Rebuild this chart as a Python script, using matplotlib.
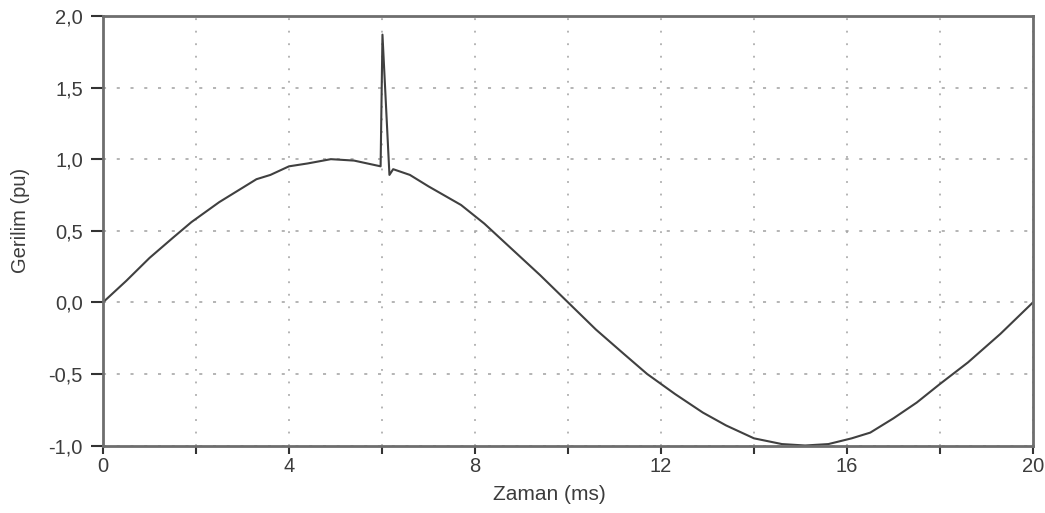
import numpy as np
import matplotlib
matplotlib.use('Agg')
import matplotlib.pyplot as plt
from matplotlib.ticker import FuncFormatter, MultipleLocator

# Voltage waveform (time in ms, voltage in pu)
zaman = [0, 0.5, 1.0, 1.5, 1.9, 2.5, 3.0, 3.3, 3.6, 4.0, 4.4, 4.9, 5.4, 5.97,
         6.01, 6.16, 6.24, 6.6, 7.0, 7.7, 8.2, 8.8, 9.4, 10.0, 10.6, 11.2, 11.7,
         12.3, 12.9, 13.4, 14.0, 14.6, 15.1, 15.6, 16.1, 16.5, 17.0, 17.5, 18.0,
         18.6, 19.3, 20.0]
gerilim = [0, 0.15, 0.31, 0.45, 0.56, 0.70, 0.80, 0.86, 0.89, 0.95, 0.97, 1.0,
           0.99, 0.95, 1.87, 0.89, 0.93, 0.89, 0.81, 0.68, 0.55, 0.37, 0.19, 0.0,
           -0.19, -0.36, -0.50, -0.64, -0.77, -0.86, -0.95, -0.99, -1.0, -0.99,
           -0.95, -0.91, -0.81, -0.70, -0.57, -0.42, -0.22, 0.0]

x_ticks = [0, 4, 8, 12, 16, 20]

plt.rcParams['font.family'] = ['Liberation Sans', 'DejaVu Sans']

fig = plt.figure(figsize=(10.45, 5.13), dpi=100)
ax = fig.add_axes([103 / 1045, 1 - 445.5 / 513, 930 / 1045, 429.5 / 513])

ax.plot(zaman, gerilim, color='#404040', lw=1.5)

ax.set_xlim(0, 20)
ax.set_ylim(-1, 2)
ax.set_xticks(x_ticks)
ax.xaxis.set_minor_locator(MultipleLocator(2))
ax.yaxis.set_major_locator(MultipleLocator(0.5))
ax.yaxis.set_major_formatter(FuncFormatter(lambda v, p: f'{v:.1f}'.replace('.', ',')))

# sparse dotted grid like the reference
ax.grid(True, which='both', axis='x', ls=(0, (1.2, 7)), color='#a0a0a0', lw=1.1)
ax.grid(True, which='major', axis='y', ls=(0, (2, 7)), color='#a0a0a0', lw=1.1)

for s in ax.spines.values():
    s.set_color('#6e6e6e')
    s.set_linewidth(2)

ax.tick_params(which='both', direction='out', width=1.5, color='#333333',
               labelsize=14.5, labelcolor='#3c3c3c')
ax.tick_params(axis='x', which='both', length=6, pad=2)
ax.tick_params(axis='y', which='both', length=8.5, pad=6)

# axis titles, placed where the reference has them (a little off-centre)
ax.set_xlabel('Zaman (ms)', fontsize=15, color='#3c3c3c', va='center')
ax.set_ylabel('Gerilim (pu)', fontsize=14.5, color='#3c3c3c', va='center')
ax.xaxis.set_label_coords(0.4796, -0.115)
ax.yaxis.set_label_coords(-0.089, 0.523)

fig.savefig('out.png', dpi=100)
